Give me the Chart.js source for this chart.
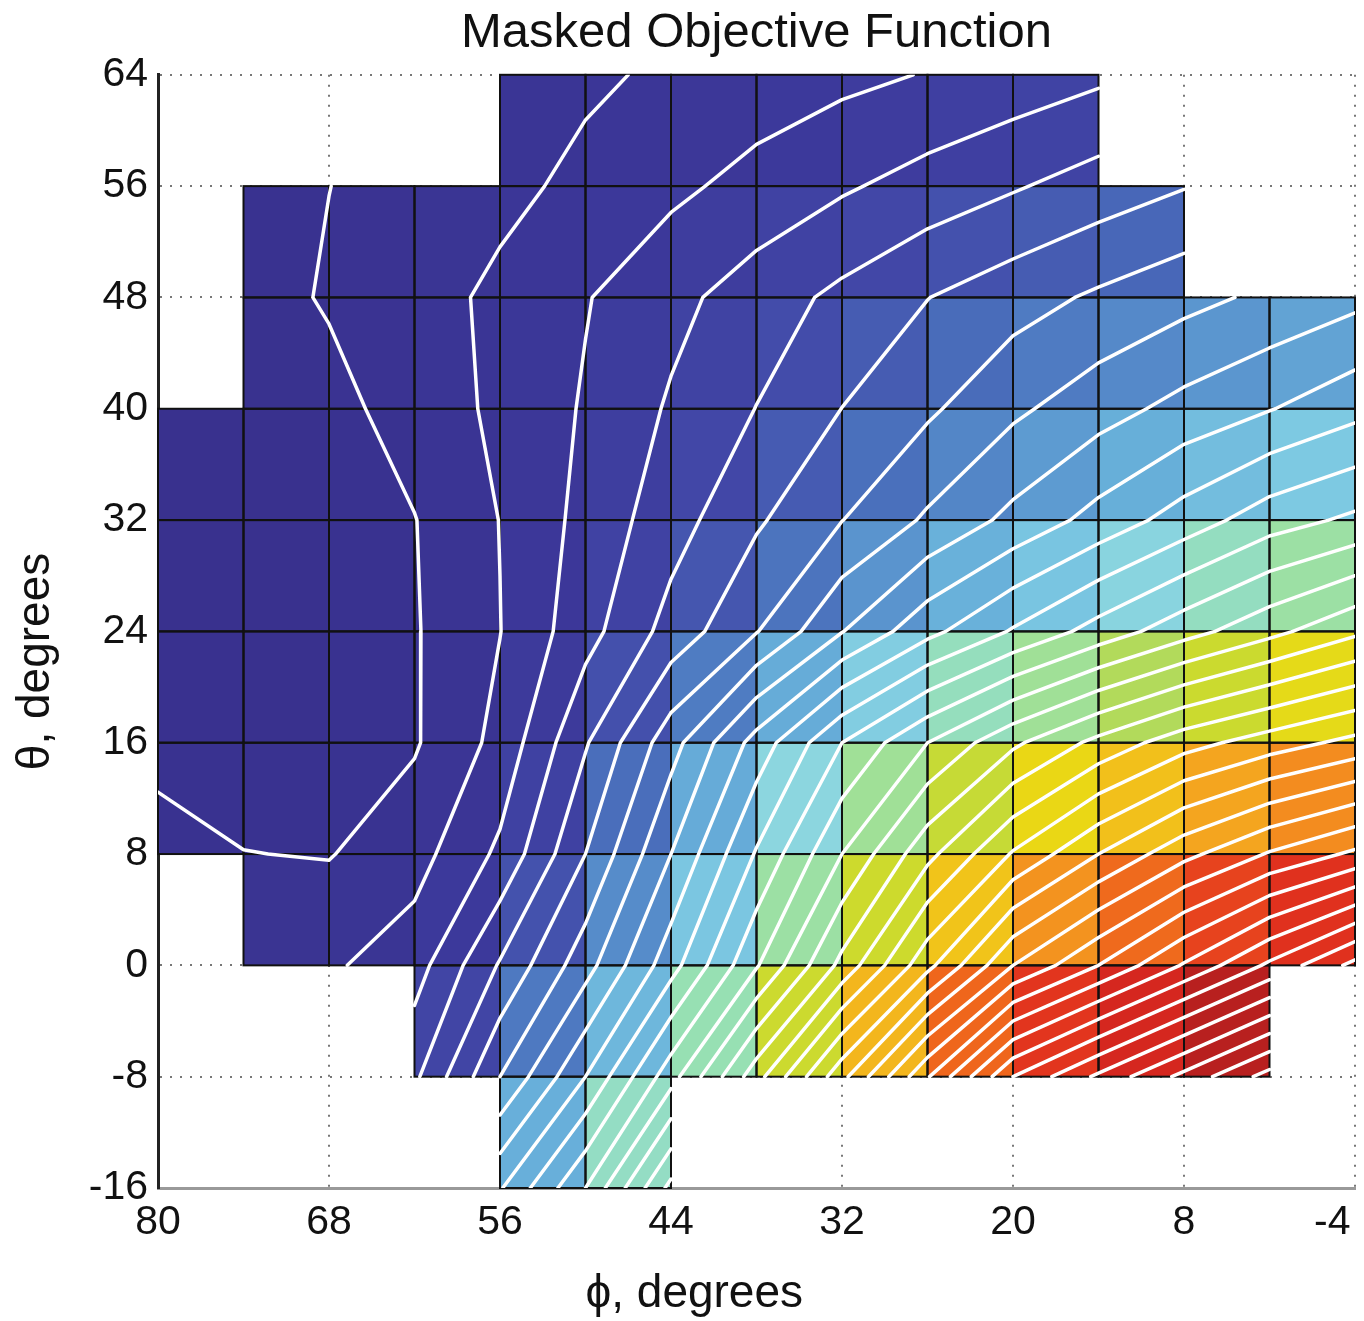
<!DOCTYPE html>
<html>
<head>
<meta charset="utf-8">
<title>Masked Objective Function</title>
<script src="https://cdn.jsdelivr.net/npm/chart.js@4.4.1/dist/chart.umd.min.js"></script>
<style>
  html, body { margin: 0; padding: 0; background: #fff; }
  #wrap { width: 1364px; height: 1321px; }
</style>
</head>
<body>
<div id="wrap"><canvas id="chart" width="1364" height="1321"></canvas></div>
<script>
// grid nodes (cell corners)
const phiNodes = [80, 74, 68, 62, 56, 50, 44, 38, 32, 26, 20, 14, 8, 2, -4];
const thetaNodes = [64, 56, 48, 40, 32, 24, 16, 8, 0, -8, -16];

// tick labels
const phiTicks = [80, 68, 56, 44, 32, 20, 8, -4];
const thetaTicks = [64, 56, 48, 40, 32, 24, 16, 8, 0, -8, -16];

// objective value at each node, one row per theta, null = masked
const objTheta64 = [null, null, null, null, 1.5, 1.85, 2.15, 2.45, 2.75, 3.05, 3.4, 3.8, null, null, null];
const objTheta56 = [null, 0.6, 0.99, 1.38, 1.76, 2.22, 2.78, 3.33, 3.87, 4.39, 4.9, 5.44, 5.95, null, null];
const objTheta48 = [null, 0.57, 1.1, 1.62, 2.2, 2.94, 3.71, 4.49, 5.24, 5.98, 6.58, 7.16, 7.69, 8.21, 8.73];
const objTheta40 = [0.6, 0.45, 0.68, 1.43, 2.2, 3.1, 4.12, 5.02, 6.01, 6.83, 7.8, 8.59, 9.32, 9.95, 10.68];
const objTheta32 = [0.5, 0.4, 0.6, 0.97, 2.02, 3.31, 4.57, 5.86, 6.98, 8.15, 9.27, 10.36, 11.45, 12.55, 13.2];
const objTheta24 = [0.5, 0.35, 0.55, 0.92, 1.98, 3.62, 5.38, 6.95, 8.96, 10.7, 12.1, 13.4, 14.6, 15.7, 16.8];
const objTheta16 = [0.8, 0.5, 0.65, 0.9, 2.3, 4.9, 7.6, 10.4, 13.0, 15.0, 16.8, 18.3, 19.6, 20.5, 21.3];
const objTheta8 = [1.25, 1.02, 0.95, 1.6, 3.2, 6.0, 9.0, 12.1, 15.0, 17.7, 20.1, 22.0, 23.7, 25.1, 26.2];
const objTheta0 = [null, 1.5, 1.85, 2.55, 5.1, 7.6, 10.6, 13.9, 17.3, 20.7, 24.0, 26.0, 28.1, 30.2, 32.3];
const objThetaM8 = [null, null, null, 3.8, 7.0, 10.0, 13.6, 17.6, 21.7, 25.9, 30.0, 32.2, 34.3, 36.4, null];
const objThetaM16 = [null, null, null, null, 9.9, 13.0, 17.3, null, null, null, null, null, null, null, null];

const contourLevels = [1, 2, 3, 4, 5, 6, 7, 8, 9, 10, 11, 12, 13, 14, 15, 16, 17, 18,
  19, 20, 21, 22, 23, 24, 25, 26, 27, 28, 29, 30, 31, 32, 33, 34, 35, 36];

const valueRows = [objTheta64, objTheta56, objTheta48, objTheta40, objTheta32, objTheta24,
  objTheta16, objTheta8, objTheta0, objThetaM8, objThetaM16];

const FONT = "'Liberation Sans', Arial, Helvetica, sans-serif";

// jet-like colour map (value -> rgb)
const colorStops = [
  [0, [56, 48, 140]],
  [3, [60, 56, 154]],
  [5, [66, 72, 168]],
  [7, [74, 112, 188]],
  [8.5, [88, 144, 204]],
  [10, [104, 176, 218]],
  [11.5, [124, 200, 226]],
  [12.8, [142, 216, 222]],
  [14, [152, 224, 176]],
  [15.2, [160, 224, 150]],
  [16.5, [178, 218, 90]],
  [17.5, [200, 218, 50]],
  [18.5, [228, 218, 24]],
  [19.5, [236, 214, 20]],
  [21, [242, 190, 28]],
  [22.5, [244, 160, 32]],
  [24, [242, 122, 30]],
  [25.5, [238, 96, 28]],
  [27, [230, 62, 30]],
  [29, [222, 44, 30]],
  [31, [206, 36, 32]],
  [33, [170, 30, 30]]
];

function colorFor(v) {
  if (v <= colorStops[0][0]) return 'rgb(' + colorStops[0][1].join(',') + ')';
  for (let k = 1; k < colorStops.length; k++) {
    const [v1, c1] = colorStops[k];
    const [v0, c0] = colorStops[k - 1];
    if (v <= v1) {
      const t = (v - v0) / (v1 - v0);
      const c = c0.map((ch, n) => Math.round(ch + t * (c1[n] - ch)));
      return 'rgb(' + c.join(',') + ')';
    }
  }
  return 'rgb(' + colorStops[colorStops.length - 1][1].join(',') + ')';
}

function cellCorners(i, j) {
  const va = valueRows[j][i], vb = valueRows[j][i + 1];
  const vc = valueRows[j + 1][i + 1], vd = valueRows[j + 1][i];
  if (va === null || vb === null || vc === null || vd === null) return null;
  return [va, vb, vc, vd];
}

// contour segments, cell by cell (marching squares)
function buildContours() {
  const pts = [];
  const gap = () => ({x: NaN, y: NaN});
  for (let j = 0; j < thetaNodes.length - 1; j++) {
    for (let i = 0; i < phiNodes.length - 1; i++) {
      const v = cellCorners(i, j);
      if (!v) continue;
      const [va, vb, vc, vd] = v;
      const pa = [phiNodes[i], thetaNodes[j]], pb = [phiNodes[i + 1], thetaNodes[j]];
      const pc = [phiNodes[i + 1], thetaNodes[j + 1]], pd = [phiNodes[i], thetaNodes[j + 1]];
      const edges = [[pa, va, pb, vb], [pb, vb, pc, vc], [pc, vc, pd, vd], [pd, vd, pa, va]];
      for (const lvl of contourLevels) {
        const hits = edges.map(([p1, v1, p2, v2]) => {
          if ((v1 >= lvl) === (v2 >= lvl)) return null;
          const t = (lvl - v1) / (v2 - v1);
          return {x: p1[0] + t * (p2[0] - p1[0]), y: p1[1] + t * (p2[1] - p1[1])};
        });
        const found = hits.filter(h => h);
        if (found.length === 2) {
          pts.push(found[0], found[1], gap());
        } else if (found.length === 4) {
          const centre = (va + vb + vc + vd) / 4;
          if ((centre >= lvl) === (va >= lvl)) {
            pts.push(hits[0], hits[1], gap(), hits[2], hits[3], gap());
          } else {
            pts.push(hits[0], hits[3], gap(), hits[1], hits[2], gap());
          }
        }
      }
    }
  }
  return pts;
}

// coloured cells with black edges, drawn under the contour lines
const cellPlugin = {
  id: 'cells',
  beforeDatasetsDraw(chart) {
    const {ctx, scales: {x, y}} = chart;
    const rects = [];
    for (let j = 0; j < thetaNodes.length - 1; j++) {
      for (let i = 0; i < phiNodes.length - 1; i++) {
        const v = cellCorners(i, j);
        if (!v) continue;
        const x0 = x.getPixelForValue(phiNodes[i]), x1 = x.getPixelForValue(phiNodes[i + 1]);
        const y0 = y.getPixelForValue(thetaNodes[j]), y1 = y.getPixelForValue(thetaNodes[j + 1]);
        rects.push([x0, y0, x1 - x0, y1 - y0]);
        ctx.fillStyle = colorFor((v[0] + v[1] + v[2] + v[3]) / 4);
        ctx.fillRect(x0, y0, x1 - x0, y1 - y0);
      }
    }
    ctx.save();
    ctx.strokeStyle = '#111';
    ctx.lineWidth = 2;
    rects.forEach(r => ctx.strokeRect(r[0], r[1], r[2], r[3]));
    ctx.restore();
  }
};

// axis titles sit a little off-centre in the original figure
const axisTitlePlugin = {
  id: 'axisTitles',
  afterDraw(chart) {
    const {ctx, chartArea: a} = chart;
    ctx.save();
    ctx.fillStyle = '#111';
    ctx.font = '46px ' + FONT;
    ctx.textAlign = 'center';
    ctx.textBaseline = 'middle';
    ctx.fillText('ϕ, degrees', a.left + (a.right - a.left) * 0.448, a.bottom + 106);
    ctx.translate(36, a.top + (a.bottom - a.top) * 0.527);
    ctx.rotate(-Math.PI / 2);
    ctx.fillText('θ, degrees', 0, 0);
    ctx.restore();
  }
};

const ctx = document.getElementById('chart').getContext('2d');
new Chart(ctx, {
  type: 'scatter',
  data: {
    datasets: [{
      label: 'contours',
      data: buildContours(),
      showLine: true,
      spanGaps: false,
      borderColor: '#ffffff',
      borderWidth: 3.5,
      borderCapStyle: 'round',
      borderJoinStyle: 'round',
      pointRadius: 0,
      tension: 0
    }]
  },
  options: {
    responsive: false,
    animation: false,
    devicePixelRatio: 1,
    layout: { padding: { left: 0, right: 9, top: 0, bottom: 0 } },
    plugins: {
      legend: { display: false },
      tooltip: { enabled: false },
      title: {
        display: true,
        fullSize: false,
        text: 'Masked Objective Function',
        color: '#111',
        font: { family: FONT, size: 49, weight: 'normal' },
        padding: { top: 4, bottom: 12 }
      }
    },
    scales: {
      x: {
        type: 'linear',
        min: -4,
        max: 80,
        reverse: true,
        afterBuildTicks: s => { s.ticks = phiTicks.map(v => ({value: v})); },
        afterFit: s => { s.height = 133; s.paddingLeft = 0; s.paddingRight = 0; },
        grid: { color: '#777', lineWidth: 2, drawTicks: false },
        border: { display: true, color: '#999', width: 3, dash: [2, 8] },
        ticks: {
          color: '#111',
          padding: 10,
          maxRotation: 0,
          font: { family: FONT, size: 41 },
          // keep the last label inside the canvas like the original
          callback: v => (v === -4 ? '-4\u00a0\u00a0\u00a0\u00a0' : String(v))
        },
        title: { display: false }
      },
      y: {
        type: 'linear',
        min: -16,
        max: 64,
        afterBuildTicks: s => { s.ticks = thetaTicks.map(v => ({value: v})); },
        afterFit: s => { s.width = 158; s.paddingTop = 0; s.paddingBottom = 0; },
        grid: { color: '#777', lineWidth: 2, drawTicks: false },
        border: { display: true, color: '#222', width: 3, dash: [2, 8] },
        ticks: { color: '#111', padding: 10, font: { family: FONT, size: 41 } },
        title: { display: false }
      }
    }
  },
  plugins: [cellPlugin, axisTitlePlugin]
});
</script>
</body>
</html>
